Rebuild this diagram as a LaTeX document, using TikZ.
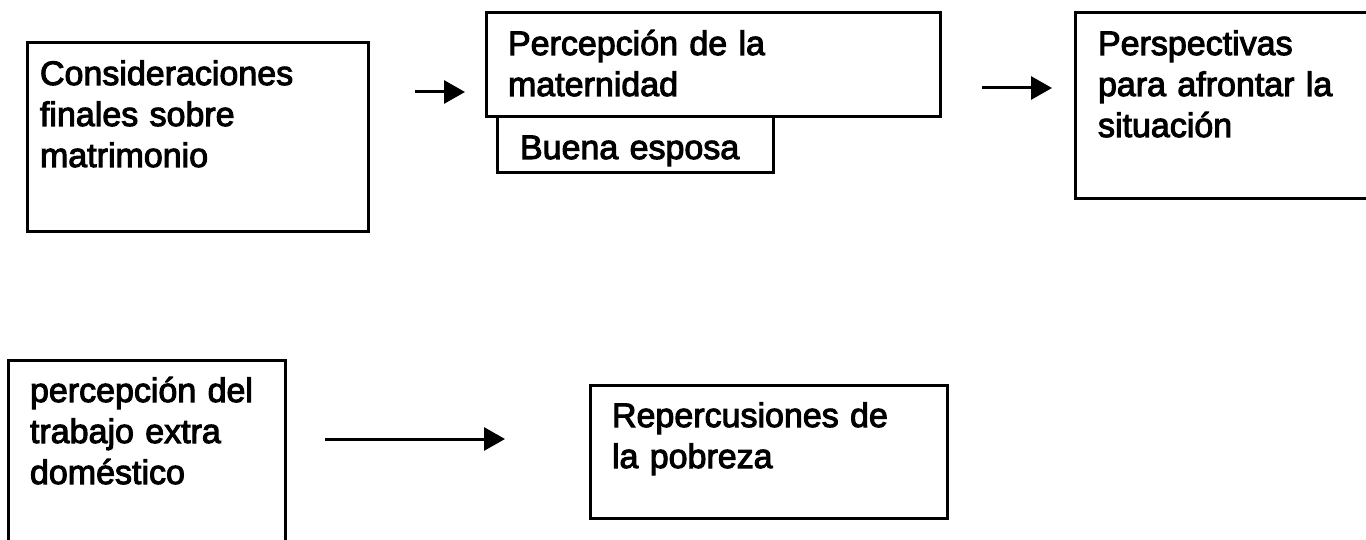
\documentclass[tikz,border=0pt]{standalone}
\usepackage{fontspec}
\setmainfont{Liberation Sans}
\newfontfamily\scanfont{Liberation Sans}[FakeBold=3]
\usetikzlibrary{positioning}
\usetikzlibrary{arrows.meta}

\begin{document}
\begin{tikzpicture}[x=1pt, y=-1pt,
  box/.style={draw, line width=3pt, anchor=north west, align=left, outer sep=0pt,
    inner xsep=22pt, inner ysep=8pt, text height=34pt,
    font=\scanfont\fontsize{34}{41}\selectfont},
  link/.style={-{Triangle[length=21pt, width=23pt]}, line width=3pt}]
  \useasboundingbox (0,0) rectangle (1366,540);
  % upper row
  \node[box, inner xsep=13pt, text width=315pt, text depth=139pt] (cons) at (27,43)
    {Consideraciones\\finales sobre\\matrimonio};
  \node[box, inner xsep=23pt, text width=230pt, text depth=6pt] (esposa) at (497,117)
    {Buena esposa};
  \node[box, text width=410pt, text depth=54pt] (mater) at (486,13)
    {Percepción de la\\maternidad};
  \node[box, inner xsep=23pt, text width=300pt, text depth=136pt] (persp) at (1075,13)
    {Perspectivas\\para afrontar la\\situación};
  % lower row
  \node[box, text width=233pt, text depth=150pt] (trabajo) at (8,360)
    {percepción del\\trabajo extra\\doméstico};
  \node[box, text width=313pt, text depth=83pt] (pobreza) at (590,385)
    {Repercusiones de\\la pobreza};
  % arrows
  \coordinate (cons out) at (415,92);
  \coordinate (mater in) at (465,92);
  \coordinate (mater out) at (982,88);
  \coordinate (persp in) at (1052,88);
  \coordinate (trabajo out) at (325,439);
  \coordinate (pobreza in) at (505,439);
  \draw[link] (cons out) -- (mater in);
  \draw[link] (mater out) -- (persp in);
  \draw[link] (trabajo out) -- (pobreza in);
\end{tikzpicture}
\end{document}
